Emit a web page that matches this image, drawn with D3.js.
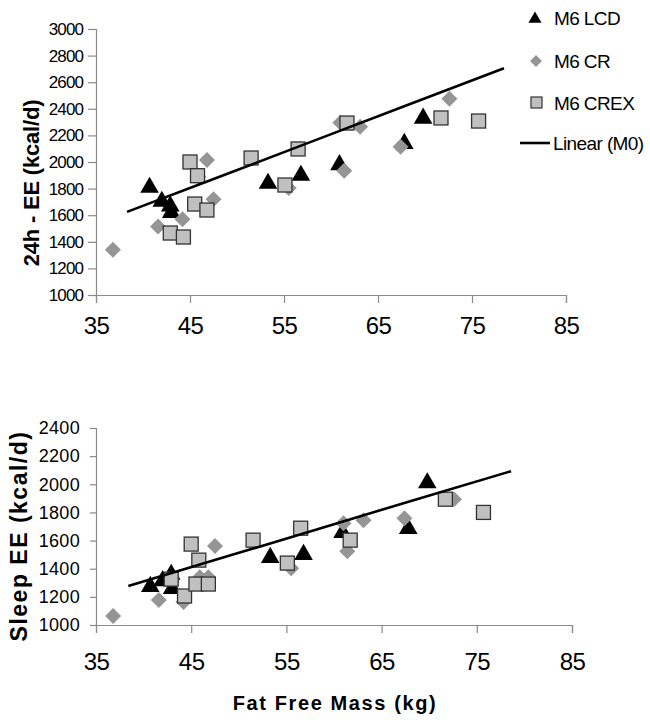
<!DOCTYPE html>
<html>
<head>
<meta charset="utf-8">
<script src="https://cdn.jsdelivr.net/npm/d3@7"></script>
<style>
  html, body { margin: 0; padding: 0; background: #fff; }
  svg { display: block; font-family: "Liberation Sans", Arial, sans-serif; }
</style>
</head>
<body>
<svg id="chart" width="650" height="720"></svg>
<script>
// ---- Data ----
const xTicks = [35, 45, 55, 65, 75, 85];
const yTicksTop = [1000, 1200, 1400, 1600, 1800, 2000, 2200, 2400, 2600, 2800, 3000];
const yTicksBottom = [1000, 1200, 1400, 1600, 1800, 2000, 2200, 2400];

const seriesNames = ["M6 LCD", "M6 CR", "M6 CREX", "Linear (M0)"];

// M6 LCD (triangles)
const lcdFFM   = [40.7, 42.0, 42.9, 43.0, 53.3, 56.8, 60.9, 67.8, 69.8];
const lcd24hEE = [1820, 1715, 1680, 1630, 1850, 1910, 1990, 2150, 2340];
const lcdSleep = [1284, 1325, 1370, 1270, 1490, 1511, 1667, 1696, 2020];

// M6 CR (diamonds)
const crFFM   = [36.8, 41.6, 44.2, 45.9, 46.8, 47.5, 55.5, 61.0, 61.4, 63.1, 67.4, 72.6];
const cr24hEE = [1340, 1515, 1570, 1890, 2015, 1720, 1805, 2295, 1935, 2265, 2115, 2475];
const crSleep = [1064, 1177, 1163, 1340, 1340, 1561, 1404, 1723, 1525, 1745, 1759, 1894];

// M6 CREX (squares)
const crexFFM   = [42.9, 44.3, 45.0, 45.5, 45.8, 46.8, 51.5, 55.1, 56.5, 61.7, 71.7, 75.7];
const crex24hEE = [1466, 1436, 2000, 1684, 1897, 1639, 2030, 1827, 2098, 2293, 2331, 2308];
const crexSleep = [1326, 1206, 1575, 1291, 1461, 1291, 1603, 1440, 1688, 1603, 1894, 1800];

// Linear (M0) trend lines
const m0TopFFM    = [38.3, 48, 58, 68, 78.4];
const m0Top24hEE  = [1625, 1885, 2155, 2425, 2705];
const m0BotFFM    = [38.4, 48, 58, 68, 78.6];
const m0BotSleep  = [1277, 1472, 1675, 1880, 2093];

// ---- Drawing ----
const svg = d3.select("#chart");
const FONT = '"Liberation Sans", Arial, sans-serif';
const axisColor = "#8a8a8a";
const diamondFill = "#959595";
const squareFill = "#c0c0c0";
const squareStroke = "#333";

function zip(xs, ys) { return xs.map((x, i) => ({x: x, y: ys[i]})); }

const triSym = d3.symbol().type(d3.symbolTriangle);
function drawPanel(cfg) {
  const g = svg.append("g");
  const x = d3.scaleLinear().domain([35, 85]).range(cfg.xRange);
  const y = d3.scaleLinear().domain(cfg.yDomain).range(cfg.yRange);

  // Y axis
  const yAxis = d3.axisLeft(y).tickValues(cfg.yTicks).tickSize(cfg.yTickLen).tickPadding(cfg.yPad).tickFormat(d3.format("d"));
  const ya = g.append("g").attr("transform", `translate(${cfg.xRange[0]},0)`).call(yAxis);
  ya.select(".domain").attr("stroke", axisColor).attr("stroke-width", 1.2);
  ya.selectAll(".tick line").attr("stroke", axisColor).attr("stroke-width", 1.2);
  ya.selectAll(".tick text").attr("fill", "#000").style("font-family", FONT)
    .style("font-size", cfg.yFont + "px").style("letter-spacing", cfg.yLS + "px");

  // X axis
  const xAxis = d3.axisBottom(x).tickValues(xTicks).tickSize(8).tickPadding(cfg.xPad).tickFormat(d3.format("d"));
  const xa = g.append("g").attr("transform", `translate(0,${cfg.yRange[0]})`).call(xAxis);
  xa.select(".domain").attr("stroke", axisColor).attr("stroke-width", 1.2);
  xa.selectAll(".tick line").attr("stroke", axisColor).attr("stroke-width", 1.2);
  xa.selectAll(".tick text").attr("fill", "#000").style("font-family", FONT)
    .style("font-size", "24px").style("letter-spacing", "-0.5px");

  // Triangles (M6 LCD)
  g.append("g").selectAll("path").data(zip(lcdFFM, cfg.lcd)).join("path")
    .attr("d", d3.symbol().type(d3.symbolTriangle).size(150)())
    .attr("transform", d => `translate(${x(d.x)},${y(d.y) + 1.5})`)
    .attr("fill", "#000");

  // Diamonds (M6 CR)
  const dh = 8;
  g.append("g").selectAll("path").data(zip(crFFM, cfg.cr)).join("path")
    .attr("d", `M0,${-dh}L${dh},0L0,${dh}L${-dh},0Z`)
    .attr("transform", d => `translate(${x(d.x)},${y(d.y)})`)
    .attr("fill", diamondFill);

  // Squares (M6 CREX)
  const s = 14;
  g.append("g").selectAll("rect").data(zip(crexFFM, cfg.crex)).join("rect")
    .attr("x", d => x(d.x) - s / 2).attr("y", d => y(d.y) - s / 2)
    .attr("width", s).attr("height", s)
    .attr("fill", squareFill).attr("stroke", squareStroke).attr("stroke-width", 1.3);

  // Linear (M0)
  g.append("path").datum(zip(cfg.m0x, cfg.m0y))
    .attr("d", d3.line().x(d => x(d.x)).y(d => y(d.y)))
    .attr("fill", "none").attr("stroke", "#000").attr("stroke-width", 2.6);

  // Y title
  g.append("text")
    .attr("transform", `translate(${cfg.yTitlePos[0]},${cfg.yTitlePos[1]}) rotate(-90)`)
    .attr("text-anchor", "middle")
    .style("font-family", FONT).style("font-weight", "bold")
    .style("font-size", cfg.yTitleFont + "px").style("letter-spacing", cfg.yTitleLS + "px")
    .text(cfg.yTitle);
  return {x, y};
}

drawPanel({
  xRange: [96, 566], yDomain: [1000, 3000], yRange: [295, 29], yTicks: yTicksTop,
  yTickLen: 8, yPad: 5, yFont: 17, yLS: -0.9, xPad: 14,
  lcd: lcd24hEE, cr: cr24hEE, crex: crex24hEE, m0x: m0TopFFM, m0y: m0Top24hEE,
  yTitle: "24h - EE (kcal/d)", yTitlePos: [39, 183], yTitleFont: 22, yTitleLS: -0.2
});

drawPanel({
  xRange: [96, 572], yDomain: [1000, 2400], yRange: [625, 428], yTicks: yTicksBottom,
  yTickLen: 6, yPad: 10, yFont: 18, yLS: 0.3, xPad: 20,
  lcd: lcdSleep, cr: crSleep, crex: crexSleep, m0x: m0BotFFM, m0y: m0BotSleep,
  yTitle: "Sleep EE (kcal/d)", yTitlePos: [27, 536], yTitleFont: 23, yTitleLS: 1.5
});

// X title (bottom)
svg.append("text").attr("x", 335).attr("y", 710).attr("text-anchor", "middle")
  .style("font-family", FONT).style("font-weight", "bold")
  .style("font-size", "20px").style("letter-spacing", "1.6px")
  .text("Fat Free Mass (kg)");

// Legend
const lg = svg.append("g");
const legY = [18, 61, 103, 143];
lg.append("path").attr("d", d3.symbol().type(d3.symbolTriangle).size(75)())
  .attr("transform", `translate(535,${legY[0] + 1})`).attr("fill", "#000");
lg.append("path").attr("d", "M0,-6L6,0L0,6L-6,0Z")
  .attr("transform", `translate(536,${legY[1]})`).attr("fill", diamondFill);
lg.append("rect").attr("x", 531).attr("y", legY[2] - 6).attr("width", 11).attr("height", 11)
  .attr("fill", squareFill).attr("stroke", squareStroke).attr("stroke-width", 1.2);
lg.append("line").attr("x1", 520).attr("x2", 550).attr("y1", legY[3]).attr("y2", legY[3])
  .attr("stroke", "#000").attr("stroke-width", 2.6);
lg.selectAll("text.leg").data(seriesNames).join("text").attr("class", "leg")
  .attr("x", (d, i) => i === 3 ? 553 : 554).attr("y", (d, i) => legY[i] + 7)
  .style("font-family", FONT).style("font-size", "19px").style("letter-spacing", "-0.6px")
  .text(d => d);
</script>
</body>
</html>
